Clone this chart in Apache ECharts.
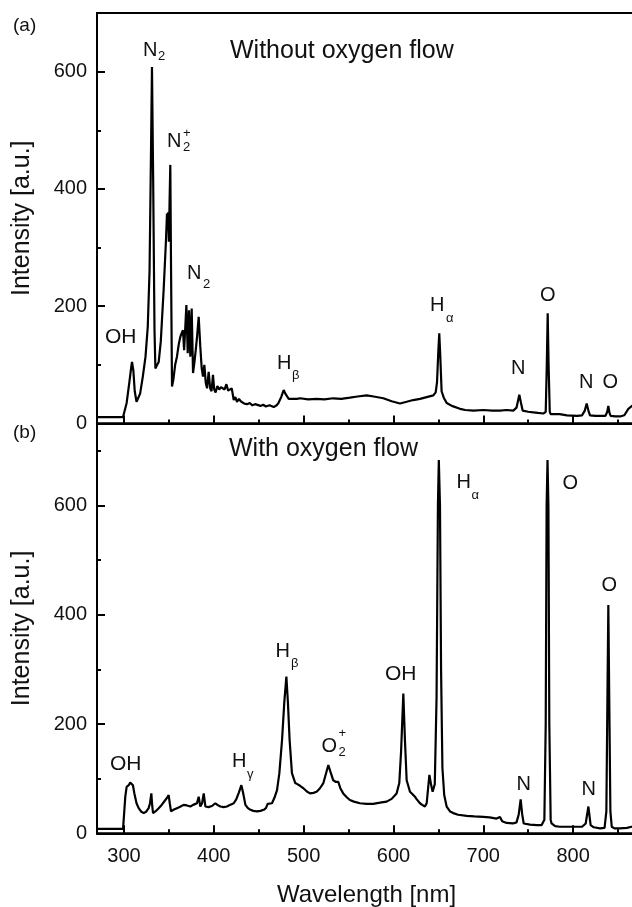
<!DOCTYPE html>
<html><head><meta charset="utf-8">
<script src="https://cdn.jsdelivr.net/npm/echarts@6/dist/echarts.min.js"></script>
<style>html,body{margin:0;padding:0;background:#fff;overflow:hidden}#c{width:632px;height:907px}</style>
</head><body><div id="c"></div>
<script>
// ---- data ----
const waveA = [270,285,299,300.5,303,306,308,309,310.5,312,314,316,318,321,324,326.5,328.5,330,331.2,332.5,334,335,337,338.7,341,344.2,346.8,347.9,348.5,349.3,350,350.8,351.6,352.5,353.5,355,357,359,361,362.8,364.5,365.7,367,369.5,371,372.4,373.9,375.4,376.9,378.5,379.9,381.5,383.2,385,386.5,388,389.5,391,392.5,394.3,396,397.5,399.1,400.5,402,404,406,408,410,412,414,416,418,420,422.2,424,425.8,428,430,432,434,437,440,443,446,448,452,455,458,462,466.7,470,472,475,477.8,480,483.4,487,492.6,496,505,514.6,523,533,542,551.5,560,570.2,578,588.7,598,607.3,614.7,622,629.6,637,644.4,647,648.5,650,651,652,653.6,656,659.3,665,674,680,689,700,710,718.6,726,733.4,737,740.1,742,743.8,750,755.6,761,766.8,769.5,770.7,771.7,772.7,774,775,785,793.2,804.4,810,813,815.1,817,818.8,825,830,836,838,839.2,840.5,841.8,847,852.2,857,861.5,865.6,870];
const intA  = [11,11,11,14,35,70,95,105,90,55,37,40,51,80,114,165,260,450,608,420,160,94,100,105,140,228,313,358,340,360,310,380,441,250,63,75,100,114,135,148,155,159,125,202,120,193,114,196,86,105,125,150,182,131,95,80,100,70,60,88,60,55,83,58,53,64,58,62,64,58,67,56,53,60,40,45,37,42,38,40,34,33,35,31,33,31,30,32,29,31,28,31,35,45,57,50,42,42,42,43,41,42,41,43,42,44,46,48,46,43,38,34,37,40,42,45,48,53,70,125,154,120,55,44,35,30,25,23,22,23,22,22,23,22,27,49,35,22,20,19,18,17,20,100,188,100,20,16,16,14,13,14,22,34,22,14,13,13,13,20,30,18,13,12,12,14,25,30,32];
const waveB = [270,285,299,300,301.5,303,305.3,307,309,310,311.6,314,316.4,319,322,325,327.5,329,330.5,331.5,332.4,335,338.7,342,344,346.1,348,349.8,351,352.4,355,359,362,366.4,370,373.9,377,381.3,383.2,385,387,388.8,390.7,394,398,401.7,404,407.3,411,414.7,418,422.2,425,428,430.7,432.5,435.2,438,440.8,444,448.1,452,455.6,458,460,462,464.8,467.5,470.4,473,476,478.5,480.8,482.5,484.4,487,490.7,493,496,500,504,507.1,511,514.5,518,522,525,527.5,530,533,536,538.6,541,544.1,548,551.5,556,562.7,570,577.5,585,592.4,598,603.5,606.5,608.5,611,612.8,614.7,618.4,621,623.9,626,629.5,632,635,637,640,641.8,643.6,646,648,649.5,650.5,651.8,653,654.5,656.5,659.2,663,666.6,672,681.5,690,700,707,714.8,718.6,721,726,733,737,739.5,741.6,743.3,745,752,759.7,765,768,769.5,770.5,771.5,772.5,773.5,775,776,780,785,795,804,810,814,817,819.5,823,829.9,835,837,838.2,839.2,840.2,841.5,843,846,852,860,865,870];
const intB  = [8,8,8,10,67,85,88,93,93,88,73,55,46,40,37,40,46,55,73,50,37,40,46,52,55,61,65,70,55,40,43,46,48,52,51,49,52,55,67,49,55,73,49,48,50,55,52,49,48,49,52,55,62,75,88,75,52,46,43,41,40,41,43,46,54,52,55,65,79,110,171,240,287,240,171,110,92,90,87,82,76,73,74,76,82,92,110,125,112,97,94,94,82,73,66,61,58,55,54,54,56,58,63,73,92,150,256,170,97,76,72,67,62,55,52,49,55,107,90,76,90,250,600,683,600,300,120,70,49,40,37,34,32,31,30,29,27,30,22,19,18,20,35,62,35,18,16,15,15,25,200,600,683,600,200,25,18,13,12,12,12,12,18,49,15,11,9,10,40,250,418,250,40,12,9,9,10,12,12];
const xTickLabels = [300,400,500,600,700,800];
const yTickLabels = [0,200,400,600];

// ---- chart ----
const FONT = '"Liberation Sans", Arial, Helvetica, sans-serif';
const zip = (xs, ys) => xs.map((x, i) => [x, ys[i]]);
const chart = echarts.init(document.getElementById('c'), null, {renderer: 'canvas'});

function xAxisCfg(grid, showLabels) {
  return {
    gridIndex: grid, type: 'value', min: 270, max: 870,
    minInterval: 100, maxInterval: 100, splitNumber: 6,
    position: 'bottom',
    axisLine: {show: true, onZero: false, lineStyle: {color: '#000', width: 2}},
    axisTick: {show: true, inside: true, length: 8, lineStyle: {color: '#000', width: 2}},
    minorTick: {show: true, splitNumber: 2, length: 4, lineStyle: {color: '#000', width: 2}},
    splitLine: {show: false},
    axisLabel: {show: showLabels, fontSize: 20, fontFamily: FONT, color: '#111', margin: 13,
      formatter: v => xTickLabels.includes(Math.round(v)) && Math.abs(v - Math.round(v)) < 1e-6 ? String(v) : ''},
    name: showLabels ? 'Wavelength [nm]' : '',
    nameLocation: 'middle', nameGap: 50,
    nameTextStyle: {fontSize: 24, fontFamily: FONT, color: '#111'}
  };
}
function yAxisCfg(grid, max) {
  return {
    gridIndex: grid, type: 'value', min: 0, max: max, interval: 200,
    position: 'left',
    axisLine: {show: true, lineStyle: {color: '#000', width: 2}},
    axisTick: {show: true, inside: true, length: 8, lineStyle: {color: '#000', width: 2}},
    minorTick: {show: true, splitNumber: 2, length: 4, lineStyle: {color: '#000', width: 2}},
    splitLine: {show: false},
    axisLabel: {fontSize: 20, fontFamily: FONT, color: '#111', margin: 10,
      formatter: v => yTickLabels.includes(v) ? String(v) : ''},
    name: 'Intensity [a.u.]', nameLocation: 'middle', nameGap: 62,
    nameTextStyle: {fontSize: 25, fontFamily: FONT, color: '#111'}
  };
}

function txt(x, y, s, size) {
  return {type: 'text', x: x, y: y, silent: true,
    style: {text: s, fontSize: size || 20, fontFamily: FONT, fill: '#111', align: 'left', verticalAlign: 'middle'}};
}
const SUB = 13;
const graphics = [
  // panel (a)
  txt(13, 25.5, '(a)', 19),
  txt(230, 51, 'Without oxygen flow', 25),
  txt(143, 50, 'N'), txt(158, 56, '2', SUB),
  txt(167, 141.5, 'N'), txt(183, 133, '+', SUB), txt(183, 147, '2', SUB),
  txt(187, 273, 'N'), txt(203, 284, '2', SUB),
  txt(105, 337, 'OH', 21),
  txt(277, 363, 'H'), txt(292, 375, 'β', SUB),
  txt(430, 305, 'H'), txt(446, 318, 'α', SUB),
  txt(540, 295.5, 'O'),
  txt(511, 368, 'N'),
  txt(579, 382.5, 'N'),
  txt(602.5, 382.5, 'O'),
  // panel (b)
  txt(13, 433, '(b)', 19),
  txt(229, 449, 'With oxygen flow', 25),
  txt(456.5, 482.5, 'H'), txt(471.5, 495, 'α', SUB),
  txt(562.5, 483, 'O'),
  txt(601.5, 585, 'O'),
  txt(275.5, 651.5, 'H'), txt(291, 663, 'β', SUB),
  txt(110, 764, 'OH', 21),
  txt(232, 761.5, 'H'), txt(247, 774, 'γ', SUB),
  txt(321.5, 746, 'O'), txt(338.5, 733, '+', SUB), txt(338.5, 752.5, '2', SUB),
  txt(385, 674, 'OH', 21),
  txt(516.5, 784, 'N'),
  txt(581.5, 789, 'N')
];

const lineStyle = {color: '#000', width: 2.2};
chart.setOption({
  animation: false,
  backgroundColor: '#fff',
  grid: [
    {left: 97, top: 13, width: 539, height: 410.5, show: true, borderColor: '#000', borderWidth: 2, backgroundColor: 'transparent', containLabel: false, outerBoundsMode: 'none'},
    {left: 97, top: 423.5, width: 539, height: 409.8, show: true, borderColor: '#000', borderWidth: 2, backgroundColor: 'transparent', containLabel: false, outerBoundsMode: 'none'}
  ],
  xAxis: [xAxisCfg(0, false), xAxisCfg(1, true)],
  yAxis: [yAxisCfg(0, 700), yAxisCfg(1, 750)],
  series: [
    {type: 'line', xAxisIndex: 0, yAxisIndex: 0, data: zip(waveA, intA), showSymbol: false, symbol: 'none', lineStyle: lineStyle, z: 3},
    {type: 'line', xAxisIndex: 1, yAxisIndex: 1, data: zip(waveB, intB), showSymbol: false, symbol: 'none', lineStyle: lineStyle, z: 3}
  ],
  graphic: graphics
});
</script></body></html>
